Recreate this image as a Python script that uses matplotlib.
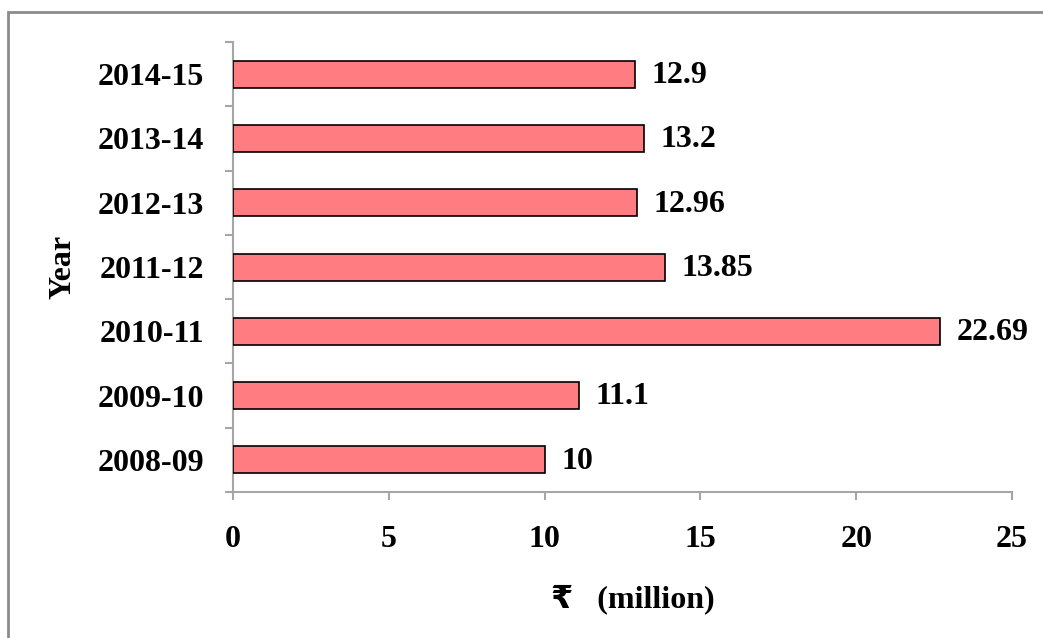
import matplotlib
matplotlib.use("Agg")
import matplotlib.pyplot as plt
import numpy as np
from matplotlib.patches import Rectangle

years = ["2008-09", "2009-10", "2010-11", "2011-12", "2012-13", "2013-14", "2014-15"]
values = [10, 11.1, 22.69, 13.85, 12.96, 13.2, 12.9]
labels = ["10", "11.1", "22.69", "13.85", "12.96", "13.2", "12.9"]
xticks = [0, 5, 10, 15, 20, 25]

plt.rcParams['font.family'] = ['Liberation Serif', 'DejaVu Sans']
plt.rcParams['font.weight'] = 'bold'
plt.rcParams['font.size'] = 23

fig = plt.figure(figsize=(10.43, 6.38), dpi=100)
ax = fig.add_axes([0.2234, 0.2288, 0.9703 - 0.2234, 0.9342 - 0.2288])

axis_gray = "#a6a6a6"
y = np.arange(len(years))
ax.barh(y, values, height=0.42, color="#ff7c80", edgecolor="black", linewidth=1.2, zorder=3)

for yi, v, t in zip(y, values, labels):
    ax.annotate(t, (v, yi), xytext=(12, -1), textcoords="offset points",
                va="center", ha="left", fontsize=23, fontweight="bold")

ax.set_xlim(0, 25)
ax.set_ylim(-0.5, len(years) - 0.5)
ax.set_xticks(xticks)
ax.set_xticklabels([str(t) for t in xticks])
ax.set_yticks(y)
ax.set_yticklabels(years)
ax.set_yticks(np.arange(len(years) + 1) - 0.5, minor=True)

for s in ["top", "right"]:
    ax.spines[s].set_visible(False)
for s in ["left", "bottom"]:
    ax.spines[s].set_color(axis_gray)
    ax.spines[s].set_linewidth(1.5)

ax.tick_params(axis="y", which="major", length=0, pad=21)
ax.tick_params(axis="y", which="minor", length=6, width=1.5, color=axis_gray)
ax.tick_params(axis="x", which="major", length=6, width=1.5, color=axis_gray, pad=18)

ax.set_ylabel("Year", fontsize=23, fontweight="bold", labelpad=14)
ax.set_xlabel("₹   (million)", fontsize=23, fontweight="bold")
ax.xaxis.set_label_coords(0.513, -0.205)

fig.patches.append(Rectangle((8 / 1043, -0.05), 1.1, 1 - 12 / 638 + 0.05,
                             transform=fig.transFigure, fill=False,
                             edgecolor="#8c8c8c", linewidth=2))

fig.savefig("out.png", dpi=100)
